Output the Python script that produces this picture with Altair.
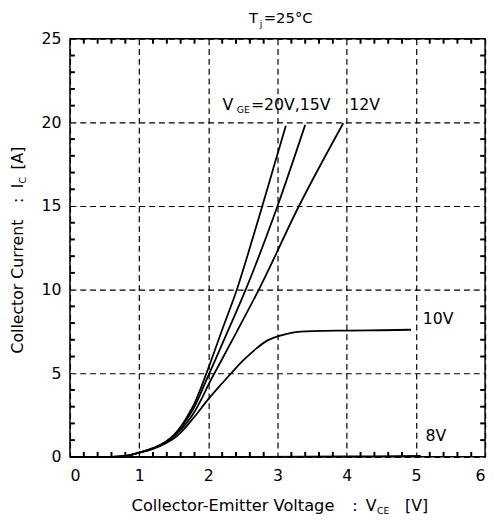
import altair as alt
import pandas as pd

# ---- data ----
vce_20 = [0, 0.6, 0.8, 1.0, 1.2, 1.4, 1.5, 1.6, 1.7, 1.8, 1.9, 2.0, 2.2, 2.42, 2.6, 2.78, 2.95, 3.12]
ic_20 = [0, 0, 0.05, 0.25, 0.52, 0.95, 1.3, 1.8, 2.45, 3.2, 4.2, 5.3, 7.6, 10.1, 12.5, 15.0, 17.4, 19.8]

vce_15 = [0, 0.6, 0.8, 1.0, 1.2, 1.4, 1.5, 1.6, 1.7, 1.8, 1.9, 2.0, 2.28, 2.54, 3.0, 3.4]
ic_15 = [0, 0, 0.05, 0.25, 0.52, 0.93, 1.27, 1.72, 2.3, 3.0, 3.9, 4.86, 7.5, 10.0, 15.0, 19.85]

vce_12 = [0, 0.6, 0.8, 1.0, 1.2, 1.4, 1.5, 1.6, 1.7, 1.8, 1.9, 2.0, 2.2, 2.4, 2.73, 3.31, 3.95]
ic_12 = [0, 0, 0.05, 0.25, 0.5, 0.9, 1.22, 1.62, 2.1, 2.7, 3.45, 4.3, 5.85, 7.4, 10.0, 15.0, 19.95]

vce_10 = [0, 0.6, 0.8, 1.0, 1.2, 1.4, 1.5, 1.6, 1.8, 2.0, 2.2, 2.33, 2.5, 2.7, 2.85, 3.0, 3.2, 3.5, 4.0, 4.5, 4.93]
ic_10 = [0, 0, 0.05, 0.25, 0.48, 0.85, 1.1, 1.45, 2.4, 3.45, 4.4, 5.0, 5.75, 6.5, 6.95, 7.2, 7.42, 7.52, 7.55, 7.57, 7.6]

vce_8 = [0, 2.0, 4.0, 5.07]
ic_8 = [0, 0, 0.02, 0.05]

x_ticks = [0, 1, 2, 3, 4, 5, 6]
y_ticks = [0, 5, 10, 15, 20, 25]
x_minor = [0.2, 0.4, 0.6, 0.8, 1.2, 1.4, 1.6, 1.8, 2.2, 2.4, 2.6, 2.8, 3.2, 3.4, 3.6, 3.8,
           4.2, 4.4, 4.6, 4.8, 5.2, 5.4, 5.6, 5.8]
y_minor = [1, 2, 3, 4, 6, 7, 8, 9, 11, 12, 13, 14, 16, 17, 18, 19, 21, 22, 23, 24]

curve_labels = ["10V", "8V", "12V"]
curve_label_x = [5.10, 5.14, 4.035]
curve_label_y = [7.96, 0.96, 20.74]

# ---- build tables ----
rows = []
for name, xs_, ys_ in [("20V", vce_20, ic_20), ("15V", vce_15, ic_15), ("12V", vce_12, ic_12),
                       ("10V", vce_10, ic_10), ("8V", vce_8, ic_8)]:
    for a, b in zip(xs_, ys_):
        rows.append({"series": name, "vce": a, "ic": b})
curves = pd.DataFrame(rows)

W, H = 422, 425
FONT = "DejaVu Sans"
FS = 16
TL = 5  # minor tick length in px
x0, x1 = x_ticks[0], x_ticks[-1]
y0, y1 = y_ticks[0], y_ticks[-1]
dy = TL * (y1 - y0) / H
dx = TL * (x1 - x0) / W

xs = alt.Scale(domain=[x0, x1], nice=False, zero=False)
ys = alt.Scale(domain=[y0, y1], nice=False, zero=False)
xaxis = alt.Axis(values=x_ticks, title=None, ticks=False, domain=False, grid=True, format="d",
                 gridDash=[6, 4], gridColor="black", gridWidth=1.2, gridOpacity=1,
                 labelPadding=11, labelFontSize=FS, labelFont=FONT, labelColor="black")
yaxis = alt.Axis(values=y_ticks, title=None, ticks=False, domain=False, grid=True, format="d",
                 gridDash=[6, 4], gridColor="black", gridWidth=1.2, gridOpacity=1,
                 labelPadding=9, labelFontSize=FS, labelFont=FONT, labelColor="black")

lines = alt.Chart(curves).mark_line(color="black", strokeWidth=1.8, interpolate="monotone").encode(
    x=alt.X("vce:Q", scale=xs, axis=xaxis),
    y=alt.Y("ic:Q", scale=ys, axis=yaxis),
    detail="series:N",
)

# minor ticks, drawn inward from each edge of the frame
xt = pd.DataFrame({
    "tx": x_minor * 2,
    "ya": [y0] * len(x_minor) + [y1] * len(x_minor),
    "yb": [y0 + dy] * len(x_minor) + [y1 - dy] * len(x_minor),
})
yt = pd.DataFrame({
    "ty": y_minor * 2,
    "xa": [x0] * len(y_minor) + [x1] * len(y_minor),
    "xb": [x0 + dx] * len(y_minor) + [x1 - dx] * len(y_minor),
})
ticks_x = alt.Chart(xt).mark_rule(color="black", strokeWidth=2).encode(
    x=alt.X("tx:Q", scale=xs, axis=xaxis), y=alt.Y("ya:Q", scale=ys, axis=yaxis), y2="yb:Q")
ticks_y = alt.Chart(yt).mark_rule(color="black", strokeWidth=2).encode(
    y=alt.Y("ty:Q", scale=ys, axis=yaxis), x=alt.X("xa:Q", scale=xs, axis=xaxis), x2="xb:Q")

lab = pd.DataFrame({"t": curve_labels, "x": curve_label_x, "y": curve_label_y})
labels = alt.Chart(lab).mark_text(align="left", baseline="alphabetic", fontSize=FS, font=FONT,
                                  color="black").encode(
    x=alt.X("x:Q", scale=xs, axis=xaxis), y=alt.Y("y:Q", scale=ys, axis=yaxis), text="t:N")

vge = pd.DataFrame({"t": ["V", "=20V,15V"], "x": [2.203, 2.615], "y": [20.74, 20.74]})
vge_text = alt.Chart(vge).mark_text(align="left", baseline="alphabetic", fontSize=FS, font=FONT,
                                    color="black").encode(
    x=alt.X("x:Q", scale=xs, axis=xaxis), y=alt.Y("y:Q", scale=ys, axis=yaxis), text="t:N")
vge_sub = alt.Chart(pd.DataFrame({"t": ["GE"], "x": [2.41], "y": [20.55]})).mark_text(
    align="left", baseline="alphabetic", fontSize=9.5, font=FONT, color="black").encode(
    x=alt.X("x:Q", scale=xs, axis=xaxis), y=alt.Y("y:Q", scale=ys, axis=yaxis), text="t:N")


def ptext(t, px, py, size=FS, angle=0, align="left"):
    return alt.Chart(pd.DataFrame({"t": [t]})).mark_text(
        align=align, baseline="alphabetic", fontSize=size, font=FONT, color="black", angle=angle
    ).encode(x=alt.value(px), y=alt.value(py), text="t:N")


texts = [
    # title T_j=25°C
    ptext("T", 182, -16, size=15),
    ptext("j", 193, -12, size=9.5),
    ptext("=25°C", 197, -16, size=15),
    # x axis title
    ptext("Collector-Emitter Voltage", 165.7, 480, size=16.5, align="center"),
    ptext(":", 287, 480),
    ptext("V", 300.7, 480),
    ptext("CE", 312, 483, size=9.5),
    ptext("[V]", 340.7, 480),
    # y axis title (rotated, reading upward)
    ptext("Collector Current", -48, 355 - 35, angle=270),
    ptext(":", -48, 202 - 35, angle=270),
    ptext("I", -48, 187 - 35, angle=270),
    ptext("C", -45, 182 - 35, size=9.5, angle=270),
    ptext("[A]", -48, 168 - 35, angle=270),
]

chart = alt.layer(lines, labels, vge_text, vge_sub, *texts, ticks_x, ticks_y).properties(
    width=W, height=H,
    autosize=alt.AutoSizeParams(type="none"),
    padding={"left": 63, "top": 27, "right": 5, "bottom": 65},
).configure_view(stroke="black", strokeWidth=1.5)

chart.save("out.html", embed_options={"renderer": "svg", "actions": False})
